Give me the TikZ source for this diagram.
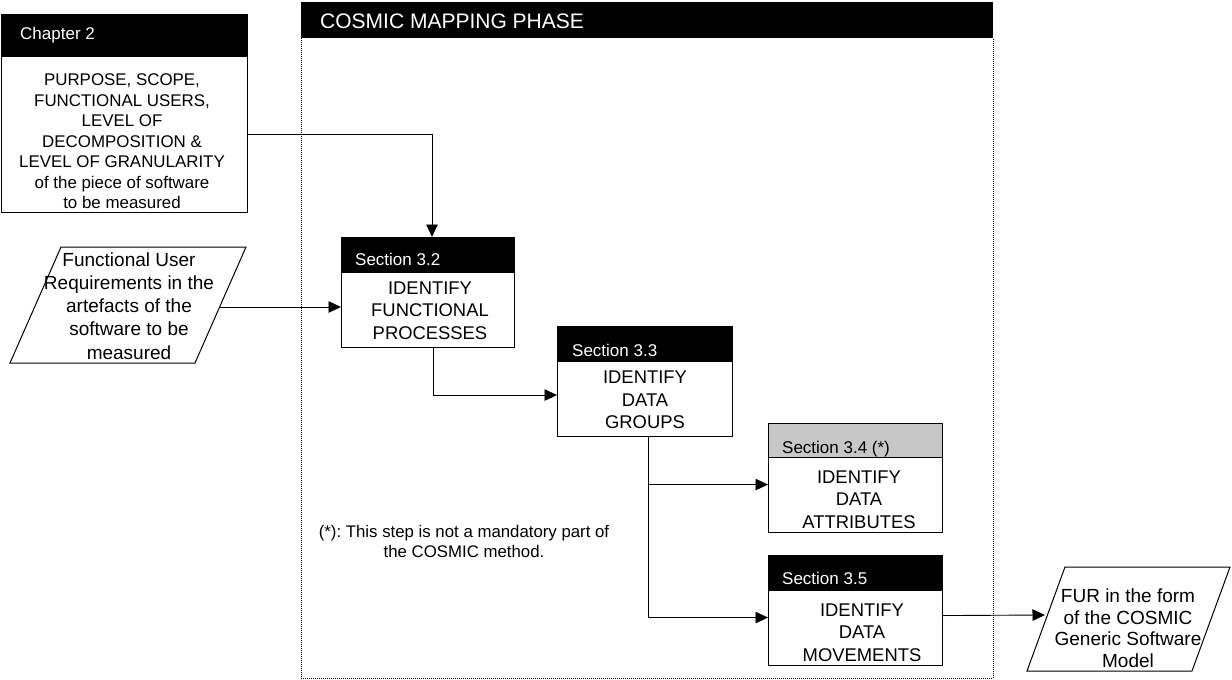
\documentclass[tikz,border=0pt]{standalone}
\usepackage{fontspec}
\setmainfont{Liberation Sans}
\usetikzlibrary{arrows.meta,calc}
\newcommand{\fsz}[2]{\fontsize{#1}{#2}\selectfont}
\frenchspacing
\begin{document}
\begin{tikzpicture}[x=1pt,y=-1pt,
  hdr/.style={draw=black, fill=black, line width=1pt, inner sep=0, anchor=north west},
  gryhdr/.style={draw=black, fill=black!22, line width=1pt, inner sep=0, anchor=north west},
  bodybox/.style={draw=black, fill=white, line width=1.1pt, inner sep=0, anchor=north west},
  htxt/.style={text=white, anchor=base west, inner sep=0, font=\fsz{17}{20}},
  btxt/.style={align=center, inner sep=0, font=\fsz{18.4}{22.7}},
  arr/.style={line width=0.9pt, -{Triangle[length=12.5pt,width=11.5pt]}},
  dotframe/.style={line width=1pt, dash pattern=on 1pt off 1pt},
  para/.style={draw=black, line width=1pt},
]
\useasboundingbox (0,0) rectangle (1232,680);

% COSMIC mapping phase frame
\node[hdr, minimum width=691pt, minimum height=35pt] (cosh) at (301,2) {};
\node[htxt, font=\fsz{21}{24}] (cost) at (320,28) {COSMIC MAPPING PHASE};
\draw[dotframe] (cosh.south west) -- ++(0,640) -- ($(cosh.south east)+(0,640)$) -- (cosh.south east);

% Chapter 2 box
\node[hdr, minimum width=246pt, minimum height=42pt] (chh) at (1,14) {};
\node[bodybox, minimum width=246pt, minimum height=156pt] (chb) at (1,56) {};
\node[htxt] (cht) at (20,39) {Chapter 2};
\node[align=center, inner sep=0, font=\fsz{16.9}{20.5}] (chx) at (122,141.5)
  {PURPOSE, SCOPE,\\FUNCTIONAL USERS,\\LEVEL OF\\DECOMPOSITION \&\\LEVEL OF GRANULARITY\\of the piece of software\\to be measured};

% Input parallelogram
\draw[para] (61,247) -- (246,247) -- (195,363) -- (10,363) -- cycle;
\coordinate (pine) at (219,307);
\node[align=center, inner sep=0, font=\fsz{19}{23.2}] (pint) at (129,306)
  {Functional User\\Requirements in the\\artefacts of the\\software to be\\measured};

% Section 3.2
\node[hdr, minimum width=173pt, minimum height=35pt] (s32h) at (341,237) {};
\node[bodybox, minimum width=173pt, minimum height=75pt] (s32b) at (341,272) {};
\node[htxt] (s32t) at (355,265) {Section 3.2};
\node[btxt] (s32x) at (430,310.5) {IDENTIFY\\FUNCTIONAL\\PROCESSES};

% Section 3.3
\node[hdr, minimum width=175pt, minimum height=35pt] (s33h) at (557,326) {};
\node[bodybox, minimum width=175pt, minimum height=75pt] (s33b) at (557,361) {};
\node[htxt] (s33t) at (572,356) {Section 3.3};
\node[btxt] (s33x) at (645,400) {IDENTIFY\\DATA\\GROUPS};

% Section 3.4
\node[gryhdr, minimum width=174pt, minimum height=34pt] (s34h) at (768,423) {};
\node[bodybox, minimum width=174pt, minimum height=75pt] (s34b) at (768,457) {};
\node[htxt, text=black] (s34t) at (782,453) {Section 3.4 (*)};
\node[btxt] (s34x) at (859,499.5) {IDENTIFY\\DATA\\ATTRIBUTES};

% Section 3.5
\node[hdr, minimum width=174pt, minimum height=35pt] (s35h) at (768,555) {};
\node[bodybox, minimum width=174pt, minimum height=75pt] (s35b) at (768,590) {};
\node[htxt] (s35t) at (782,584) {Section 3.5};
\node[btxt] (s35x) at (862,632.5) {IDENTIFY\\DATA\\MOVEMENTS};

% Footnote
\node[align=center, inner sep=0, font=\fsz{16.8}{20}] (note) at (464,541)
  {(*): This step is not a mandatory part of\\the COSMIC method.};

% Output parallelogram
\draw[para] (1065,567) -- (1230,567) -- (1192,671) -- (1027,671) -- cycle;
\coordinate (furw) at (1045,615);
\node[align=center, inner sep=0, font=\fsz{19}{21.5}] (furt) at (1128,628)
  {FUR in the form\\of the COSMIC\\Generic Software\\Model};

% Connectors
\draw[arr] (chb.east) -| ([xshift=4pt]s32h.north);
\draw[arr] (pine) -- (pine -| s32b.west);
\draw[arr] ([xshift=5pt]s32b.south) |- ([yshift=4pt]s33b.west);
\draw[arr] ([xshift=3pt]s33b.south) |- ([yshift=10.5pt]s34b.west);
\draw[arr] ([xshift=3pt]s33b.south) |- ([yshift=10.5pt]s35b.west);
\draw[arr] ([yshift=12.5pt]s35b.east) -- (furw);
\end{tikzpicture}
\end{document}
